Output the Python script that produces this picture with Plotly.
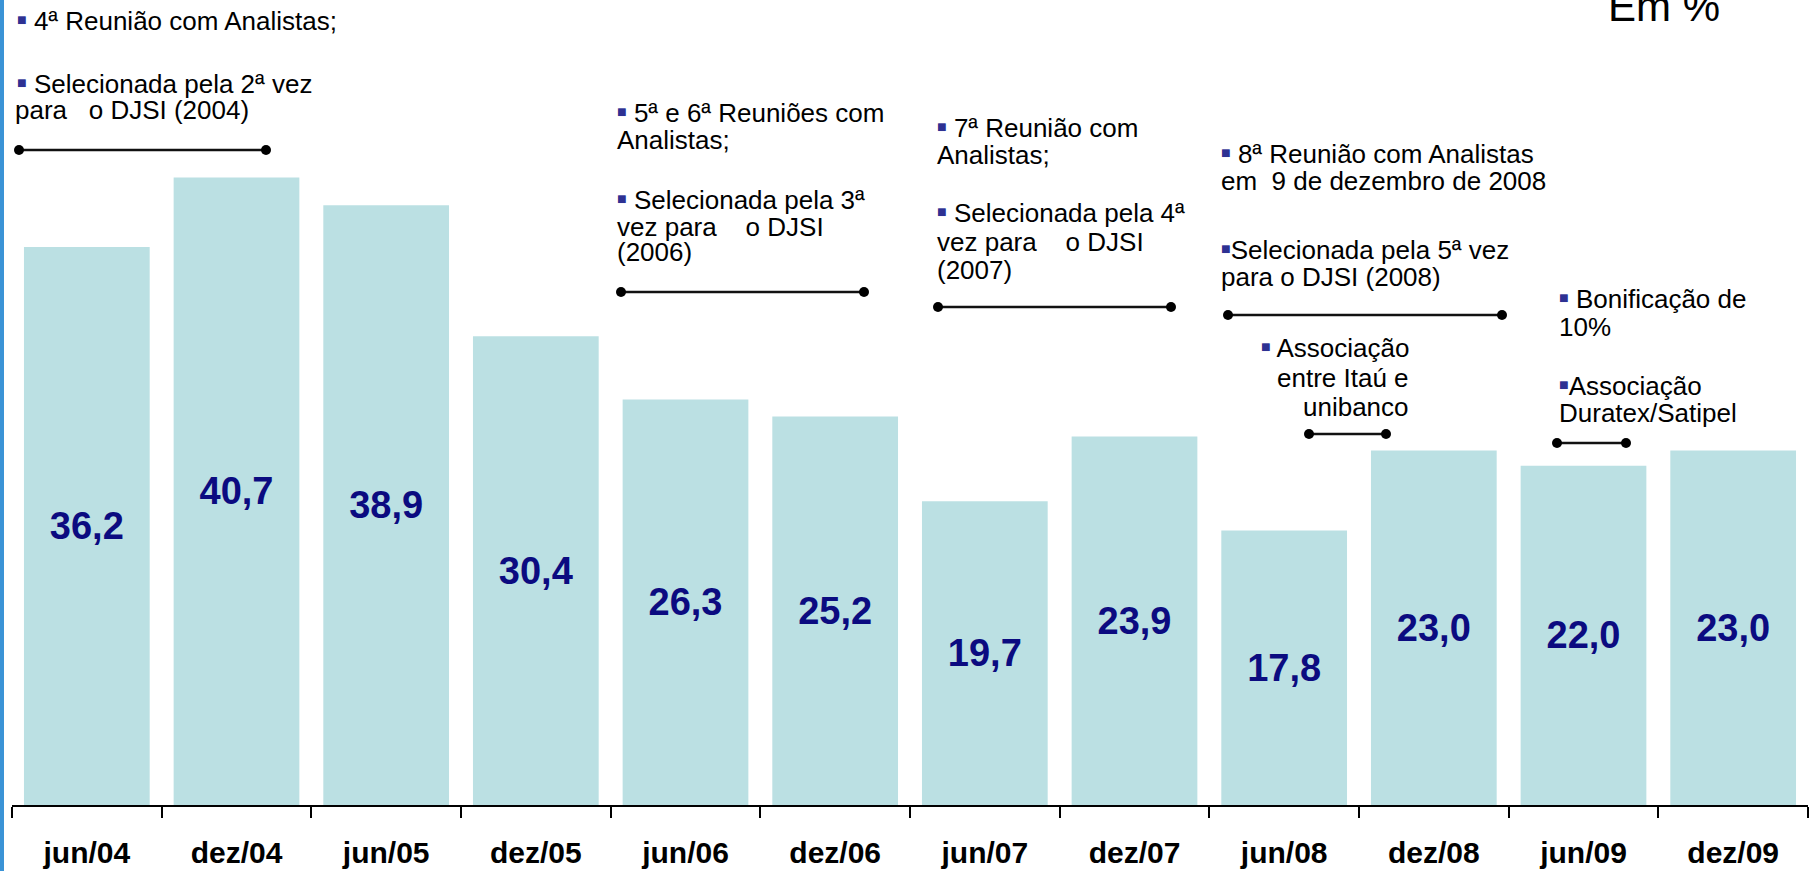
import plotly.graph_objects as go

# Series data
periods = ["jun/04", "dez/04", "jun/05", "dez/05", "jun/06", "dez/06",
           "jun/07", "dez/07", "jun/08", "dez/08", "jun/09", "dez/09"]
values = [36.2, 40.7, 38.9, 30.4, 26.3, 25.2, 19.7, 23.9, 17.8, 23.0, 22.0, 23.0]
value_labels = [f"{v:.1f}".replace(".", ",") for v in values]

W, H = 1812, 871
ML, MR, MT, MB = 12, 4, 0, 66
PW, PH = W - ML - MR, H - MT - MB
Y_MAX = 52.22


def px(x):
    """page pixel x -> paper fraction"""
    return (x - ML) / PW


def py(y):
    """page pixel y -> paper fraction"""
    return (H - MB - y) / PH


FONT = "Liberation Sans, Arial, sans-serif"
BULLET = ('<span style="color:#2E3192;font-size:16px;'
          'baseline-shift:5px">\u25a0</span>')
NB = "\u00a0"

fig = go.Figure(
    go.Bar(
        x=periods,
        y=values,
        text=value_labels,
        textposition="inside",
        insidetextanchor="middle",
        textangle=0,
        textfont=dict(family=FONT, size=38, color="#0B0B80", weight="bold"),
        marker=dict(color="#BBE0E3", line=dict(width=0)),
        hoverinfo="skip",
    )
)

# Event notes: (text, x, y, xanchor)
notes = [
    (BULLET + " 4\u00aa Reuni\u00e3o com Analistas;", 15, 21, "left"),
    (BULLET + " Selecionada pela 2\u00aa vez", 15, 84, "left"),
    ("para" + NB * 3 + "o DJSI (2004)", 13, 110, "left"),

    (BULLET + " 5\u00aa e 6\u00aa Reuni\u00f5es com", 615, 113, "left"),
    ("Analistas;", 615, 140, "left"),
    (BULLET + " Selecionada pela 3\u00aa", 615, 200, "left"),
    ("vez para" + NB * 4 + "o DJSI", 615, 227, "left"),
    ("(2006)", 615, 252, "left"),

    (BULLET + " 7\u00aa Reuni\u00e3o com", 935, 128, "left"),
    ("Analistas;", 935, 155, "left"),
    (BULLET + " Selecionada pela 4\u00aa", 935, 213, "left"),
    ("vez para" + NB * 4 + "o DJSI", 935, 242, "left"),
    ("(2007)", 935, 270, "left"),

    (BULLET + " 8\u00aa Reuni\u00e3o com Analistas", 1219, 154, "left"),
    ("em" + NB * 2 + "9 de dezembro de 2008", 1219, 181, "left"),
    (BULLET + "Selecionada pela 5\u00aa vez", 1219, 250, "left"),
    ("para o DJSI (2008)", 1219, 277, "left"),

    (BULLET + " Associa\u00e7\u00e3o", 1411, 348, "right"),
    ("entre Ita\u00fa e", 1411, 378, "right"),
    ("unibanco", 1411, 407, "right"),

    (BULLET + " Bonifica\u00e7\u00e3o de", 1557, 299, "left"),
    ("10%", 1557, 327, "left"),
    (BULLET + "Associa\u00e7\u00e3o", 1557, 386, "left"),
    ("Duratex/Satipel", 1557, 413, "left"),
]

annotations = []
for text, x, y, xa in notes:
    annotations.append(dict(
        text=text, x=px(x), y=py(y), xref="paper", yref="paper",
        xanchor=xa, yanchor="middle", showarrow=False, align=xa,
        font=dict(family=FONT, size=26, color="#000000"),
    ))

annotations.append(dict(
    text="Em %", x=px(1606), y=py(6), xref="paper", yref="paper",
    xanchor="left", yanchor="middle", showarrow=False,
    font=dict(family=FONT, size=42, color="#000000"),
))

# Period brackets: (x_start, x_end, y)
brackets = [
    (19, 266, 150),
    (621, 864, 292),
    (938, 1171, 307),
    (1228, 1502, 315),
    (1309, 1386, 434),
    (1557, 1626, 443),
]

shapes = []
R = 5
for x0, x1, y in brackets:
    shapes.append(dict(type="line", xref="paper", yref="paper",
                       x0=px(x0), x1=px(x1), y0=py(y), y1=py(y),
                       line=dict(color="#111111", width=2.5)))
    for xc in (x0, x1):
        shapes.append(dict(type="circle", xref="paper", yref="paper",
                           x0=px(xc - R), x1=px(xc + R),
                           y0=py(y + R), y1=py(y - R),
                           fillcolor="#000000", line=dict(width=0)))

# thin blue strip on the left edge
shapes.append(dict(type="rect", xref="paper", yref="paper",
                   x0=px(0), x1=px(4), y0=py(H), y1=py(0),
                   fillcolor="#3A93D6", line=dict(width=0), layer="above"))

fig.update_layout(
    width=W, height=H,
    margin=dict(l=ML, r=MR, t=MT, b=MB, pad=0),
    paper_bgcolor="white", plot_bgcolor="white",
    bargap=0.16,
    showlegend=False,
    annotations=annotations,
    shapes=shapes,
    xaxis=dict(
        type="category",
        range=[-0.5, len(periods) - 0.5],
        tickson="boundaries",
        ticks="outside", ticklen=11, tickwidth=2, tickcolor="#000000",
        showline=True, linecolor="#000000", linewidth=2,
        showgrid=False, zeroline=False,
        tickfont=dict(family=FONT, size=30, color="#000000", weight="bold"),
        ticklabelstandoff=20,
        fixedrange=True,
    ),
    yaxis=dict(
        visible=False, range=[0, Y_MAX],
        showgrid=False, zeroline=False, fixedrange=True,
    ),
)

fig.write_html("out.html", config={"displayModeBar": False})
